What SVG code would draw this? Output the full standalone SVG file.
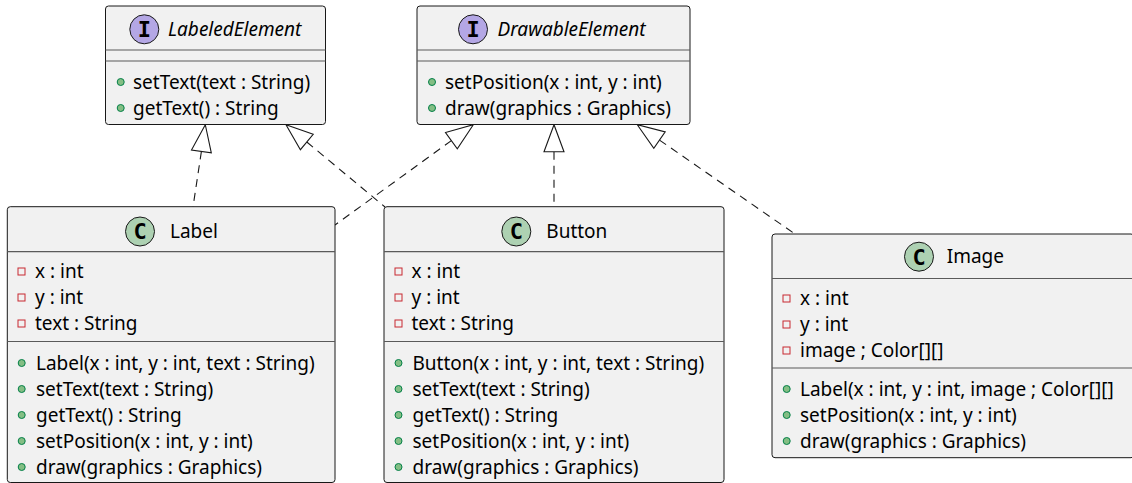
<svg xmlns="http://www.w3.org/2000/svg" width="1132" height="483" viewBox="0 0 1132 483">
<style>
.box{fill:#F1F1F1;stroke:#181818;stroke-width:1}
.sep{stroke:#5A5A5A;stroke-width:1.2}
.t{font-family:"Noto Sans","Open Sans",sans-serif;font-size:19px;fill:#000}
.ti{font-family:"Noto Sans","Open Sans",sans-serif;font-size:19px;font-style:italic;fill:#000}
.ci{fill:#B4A7E5;stroke:#181818;stroke-width:1}
.cc{fill:#ADD1B2;stroke:#181818;stroke-width:1}
.sl{font-family:"DejaVu Sans Mono",monospace;font-weight:bold;font-size:22px;fill:#000;text-anchor:middle}
.pub{fill:#84BE84;stroke:#038048;stroke-width:1}
.prv{fill:none;stroke:#C82930;stroke-width:1}
.dl{fill:none;stroke:#181818;stroke-width:1.1;stroke-dasharray:8,6}
.ah{fill:#FFFFFF;stroke:#181818;stroke-width:1.1}
</style>
<g id="connectors">
<path class="dl" d="M201.4,151.4 L193,207"/>
<polygon class="ah" points="205.3,124.7 191.5,150 211.3,152.8"/>
<path class="dl" d="M306.8,142 L385,207"/>
<polygon class="ah" points="286,124.7 300.4,149.7 313.2,134.3"/>
<path class="dl" d="M451.4,140.6 L335,225"/>
<polygon class="ah" points="473.3,124.7 457.3,148.7 445.5,132.5"/>
<path class="dl" d="M554,151.7 L554,207"/>
<polygon class="ah" points="554,124.7 544,151.7 564,151.7"/>
<path class="dl" d="M659.5,140.1 L795,234"/>
<polygon class="ah" points="637.3,124.7 653.8,148.3 665.2,131.9"/>
</g>
<g id="LabeledElement">
<rect class="box" x="105.5" y="6" width="220" height="118.5" rx="3"/>
<circle class="ci" cx="144.3" cy="29.3" r="14.5"/>
<text class="sl" x="144.3" y="37">I</text>
<text class="ti" x="168" y="36">LabeledElement</text>
<line class="sep" x1="105.5" y1="50" x2="325.5" y2="50"/>
<line class="sep" x1="105.5" y1="61" x2="325.5" y2="61"/>
<circle class="pub" cx="120.7" cy="82" r="3.5"/>
<text class="t" x="133" y="88.5">setText(text : String)</text>
<circle class="pub" cx="120.7" cy="108" r="3.5"/>
<text class="t" x="133" y="114.5">getText() : String</text>
</g>
<g id="DrawableElement">
<rect class="box" x="417" y="6" width="273" height="118.5" rx="3"/>
<circle class="ci" cx="473" cy="29.3" r="14.5"/>
<text class="sl" x="473" y="37">I</text>
<text class="ti" x="497.5" y="36">DrawableElement</text>
<line class="sep" x1="417" y1="50" x2="690" y2="50"/>
<line class="sep" x1="417" y1="61" x2="690" y2="61"/>
<circle class="pub" cx="432" cy="82" r="3.5"/>
<text class="t" x="445" y="88.5">setPosition(x : int, y : int)</text>
<circle class="pub" cx="432" cy="108" r="3.5"/>
<text class="t" x="445" y="114.5">draw(graphics : Graphics)</text>
</g>
<g id="Label">
<rect class="box" x="7.3" y="206.7" width="327.7" height="275.8" rx="3"/>
<circle class="cc" cx="140" cy="231.5" r="14.5"/>
<text class="sl" x="140" y="239.3">C</text>
<text class="t" x="170" y="238">Label</text>
<line class="sep" x1="7.3" y1="251.7" x2="335" y2="251.7"/>
<rect class="prv" x="18" y="268" width="7" height="7"/>
<text class="t" x="35" y="278">x : int</text>
<rect class="prv" x="18" y="294" width="7" height="7"/>
<text class="t" x="35" y="304">y : int</text>
<rect class="prv" x="18" y="320" width="7" height="7"/>
<text class="t" x="35" y="330">text : String</text>
<line class="sep" x1="7.3" y1="341.5" x2="335" y2="341.5"/>
<circle class="pub" cx="21.7" cy="363" r="3.5"/>
<text class="t" x="36" y="369.5">Label(x : int, y : int, text : String)</text>
<circle class="pub" cx="21.7" cy="389" r="3.5"/>
<text class="t" x="36" y="395.5">setText(text : String)</text>
<circle class="pub" cx="21.7" cy="415" r="3.5"/>
<text class="t" x="36" y="421.5">getText() : String</text>
<circle class="pub" cx="21.7" cy="441" r="3.5"/>
<text class="t" x="36" y="447.5">setPosition(x : int, y : int)</text>
<circle class="pub" cx="21.7" cy="467" r="3.5"/>
<text class="t" x="36" y="473.5">draw(graphics : Graphics)</text>
</g>
<g id="Button">
<rect class="box" x="384" y="206.7" width="340" height="275.8" rx="3"/>
<circle class="cc" cx="516.3" cy="231.5" r="14.5"/>
<text class="sl" x="516.3" y="239.3">C</text>
<text class="t" x="546.3" y="238">Button</text>
<line class="sep" x1="384" y1="251.7" x2="724" y2="251.7"/>
<rect class="prv" x="395" y="268" width="7" height="7"/>
<text class="t" x="411.5" y="278">x : int</text>
<rect class="prv" x="395" y="294" width="7" height="7"/>
<text class="t" x="411.5" y="304">y : int</text>
<rect class="prv" x="395" y="320" width="7" height="7"/>
<text class="t" x="411.5" y="330">text : String</text>
<line class="sep" x1="384" y1="341.5" x2="724" y2="341.5"/>
<circle class="pub" cx="398.5" cy="363" r="3.5"/>
<text class="t" x="412.5" y="369.5">Button(x : int, y : int, text : String)</text>
<circle class="pub" cx="398.5" cy="389" r="3.5"/>
<text class="t" x="412.5" y="395.5">setText(text : String)</text>
<circle class="pub" cx="398.5" cy="415" r="3.5"/>
<text class="t" x="412.5" y="421.5">getText() : String</text>
<circle class="pub" cx="398.5" cy="441" r="3.5"/>
<text class="t" x="412.5" y="447.5">setPosition(x : int, y : int)</text>
<circle class="pub" cx="398.5" cy="467" r="3.5"/>
<text class="t" x="412.5" y="473.5">draw(graphics : Graphics)</text>
</g>
<g id="Image">
<rect class="box" x="772" y="234" width="362" height="223.7" rx="3"/>
<circle class="cc" cx="919" cy="256.7" r="14.5"/>
<text class="sl" x="919" y="264.5">C</text>
<text class="t" x="946.7" y="263.3">Image</text>
<line class="sep" x1="772" y1="278.5" x2="1133" y2="278.5"/>
<rect class="prv" x="783" y="295" width="7" height="7"/>
<text class="t" x="800" y="305">x : int</text>
<rect class="prv" x="783" y="321" width="7" height="7"/>
<text class="t" x="800" y="331">y : int</text>
<rect class="prv" x="783" y="347" width="7" height="7"/>
<text class="t" x="800" y="357">image ; Color[][]</text>
<line class="sep" x1="772" y1="368" x2="1133" y2="368"/>
<circle class="pub" cx="786.7" cy="389" r="3.5"/>
<text class="t" x="800" y="395.5">Label(x : int, y : int, image ; Color[][]</text>
<circle class="pub" cx="786.7" cy="415" r="3.5"/>
<text class="t" x="800" y="421.5">setPosition(x : int, y : int)</text>
<circle class="pub" cx="786.7" cy="441" r="3.5"/>
<text class="t" x="800" y="447.5">draw(graphics : Graphics)</text>
</g>
</svg>
